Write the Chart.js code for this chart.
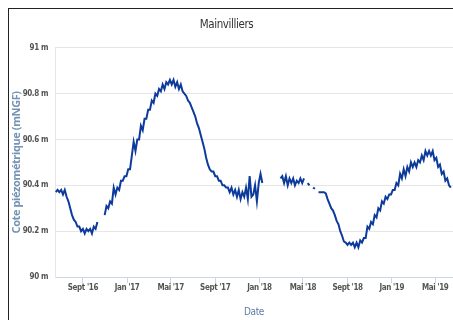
<!DOCTYPE html>
<html>
<head>
<meta charset="utf-8">
<script src="https://cdn.jsdelivr.net/npm/chart.js@4.4.0/dist/chart.umd.min.js"></script>
<style>
  body { margin: 0; background: #fff; }
  #wrap { position: relative; width: 453px; height: 320px; overflow: hidden; }
  #cadre { position: absolute; left: 8px; top: 8px; right: -10px; bottom: -10px; border-top: 1px solid #222; border-left: 1px solid #222; }
  canvas { position: absolute; left: 0; top: 0; }
</style>
</head>
<body>
<div id="wrap">
  <div id="cadre"></div>
  <canvas id="piezo" width="453" height="320"></canvas>
</div>
<script>
// mesures tous les 5 jours a partir de firstDay, null = pas de mesure
const firstDay = '2016-06-18';
const stepDays = 5;
const levels = [
    // ete - automne 2016
    90.37, 90.38, 90.37, 90.38, 90.36, 90.38, 90.35, 90.33, 90.30, 90.27,
    90.25, 90.24, 90.22, 90.22, 90.20, 90.21, 90.19, 90.21, 90.20, 90.21,
    90.19, 90.22, 90.21, 90.24,
    null, null, null,
    // recharge 2016-2017
    90.27, 90.31, 90.30, 90.33, 90.32, 90.39, 90.36, 90.39, 90.38, 90.42,
    90.42, 90.44, 90.44, 90.47, 90.47, 90.53, 90.59, 90.55, 90.60, 90.60,
    90.66, 90.64, 90.69, 90.69, 90.73, 90.73, 90.77, 90.76, 90.80, 90.79,
    90.82, 90.81, 90.84, 90.82, 90.85, 90.84, 90.86, 90.84, 90.86, 90.83,
    90.85, 90.82, 90.84, 90.81, 90.80, 90.79, 90.77, 90.76, 90.74, 90.72,
    90.70, 90.67, 90.65, 90.62, 90.59, 90.56, 90.52, 90.49, 90.47, 90.46,
    90.46, 90.44, 90.44, 90.42, 90.42, 90.40, 90.40, 90.39, 90.39, 90.37,
    90.39, 90.36, 90.38, 90.35, 90.38, 90.34, 90.37, 90.35, 90.39, 90.34,
    90.44, 90.35, 90.36, 90.40, 90.33, 90.41, 90.45, 90.41,
    null, null, null, null, null, null, null, null, null,
    // printemps 2018
    90.43, 90.44, 90.41, 90.44, 90.40, 90.43, 90.41, 90.43, 90.40, 90.42,
    90.41, 90.43, 90.41, 90.43,
    null, 90.41, 90.40, null, 90.39, 90.385, null,
    // vidange ete 2018 puis recharge
    90.37, 90.37, 90.37, 90.37, 90.365, 90.34, 90.32, 90.30, 90.29, 90.27,
    90.245, 90.23, 90.20, 90.18, 90.155, 90.15, 90.14, 90.15, 90.14, 90.15,
    90.13, 90.15, 90.13, 90.16, 90.15, 90.17, 90.17, 90.22, 90.21, 90.24,
    90.23, 90.27, 90.26, 90.30, 90.29, 90.33, 90.32, 90.35, 90.34, 90.36,
    90.36, 90.38, 90.38, 90.41, 90.40, 90.45, 90.43, 90.47, 90.44, 90.48,
    90.46, 90.50, 90.48, 90.50, 90.48, 90.51, 90.50, 90.53, 90.51, 90.55,
    90.53, 90.55, 90.53, 90.55, 90.51, 90.52, 90.48, 90.49, 90.45, 90.46,
    90.42, 90.43, 90.40, 90.39
];

const tickDates = ['2016-09-01', '2017-01-01', '2017-05-01', '2017-09-01', '2018-01-01',
    '2018-05-01', '2018-09-01', '2019-01-01', '2019-05-01'];
const tickLabels = ["Sept '16", "Jan '17", "Mai '17", "Sept '17", "Jan '18",
    "Mai '18", "Sept '18", "Jan '19", "Mai '19"];
const yTicks = [90, 90.2, 90.4, 90.6, 90.8, 91];

const DAY = 24 * 3600 * 1000;
const start = Date.parse(firstDay);
const points = levels.map((v, i) => ({ x: start + i * stepDays * DAY, y: v }));

const narrow = "'Liberation Sans Narrow', 'DejaVu Sans Condensed', 'Open Sans', sans-serif";

// texte un peu plus serre
const tightText = {
    id: 'tightText',
    beforeDraw: (chart) => { chart.ctx.letterSpacing = '-0.4px'; }
};

const config = {
    type: 'line',
    data: {
        datasets: [{
            label: 'Mainvilliers',
            data: points,
            borderColor: '#0d3b9c',
            borderWidth: 2,
            pointRadius: 0,
            tension: 0,
            spanGaps: false
        }]
    },
    options: {
        responsive: false,
        animation: false,
        layout: { padding: 0 },
        plugins: {
            legend: { display: false },
            tooltip: { enabled: false },
            title: {
                display: true,
                text: 'Mainvilliers',
                color: '#333',
                font: { family: narrow, size: 11.5, weight: 'normal' },
                padding: { top: 18, bottom: 16 }
            }
        },
        scales: {
            x: {
                type: 'linear',
                min: Date.parse('2016-06-16'),
                max: Date.parse('2019-06-19'),
                afterBuildTicks: (scale) => {
                    scale.ticks = tickDates.map(d => ({ value: Date.parse(d) }));
                },
                afterFit: (scale) => { scale.height = 43; },
                ticks: {
                    autoSkip: false,
                    maxRotation: 0,
                    padding: 0,
                    color: '#555',
                    font: { family: narrow, size: 8, weight: 'bold' },
                    callback: (value, index) => tickLabels[index]
                },
                grid: { drawOnChartArea: false, tickLength: 6, color: '#ccd6eb' },
                border: { color: '#ccd6eb' },
                title: {
                    display: true,
                    text: 'Date',
                    color: '#5b7ca3',
                    font: { family: narrow, size: 10 },
                    padding: { top: 0, bottom: 2 }
                }
            },
            y: {
                min: 90,
                max: 91,
                afterBuildTicks: (scale) => {
                    scale.ticks = yTicks.map(v => ({ value: v }));
                },
                afterFit: (scale) => { scale.width = 55; },
                ticks: {
                    padding: 7,
                    color: '#555',
                    font: { family: narrow, size: 8, weight: 'bold' },
                    callback: (value) => (Math.round(value * 10) / 10) + ' m'
                },
                grid: { color: '#e6e6e6', drawTicks: false },
                border: { color: '#e6e6e6' },
                title: {
                    display: true,
                    text: 'Cote piézométrique (mNGF)',
                    color: '#7593b4',
                    font: { family: "'Open Sans', sans-serif", size: 11, weight: 'bold' },
                    padding: { top: 10.5, bottom: 0 }
                }
            }
        }
    },
    plugins: [tightText]
};

const ctx = document.getElementById('piezo').getContext('2d');
const chart = new Chart(ctx, config);
</script>
</body>
</html>
